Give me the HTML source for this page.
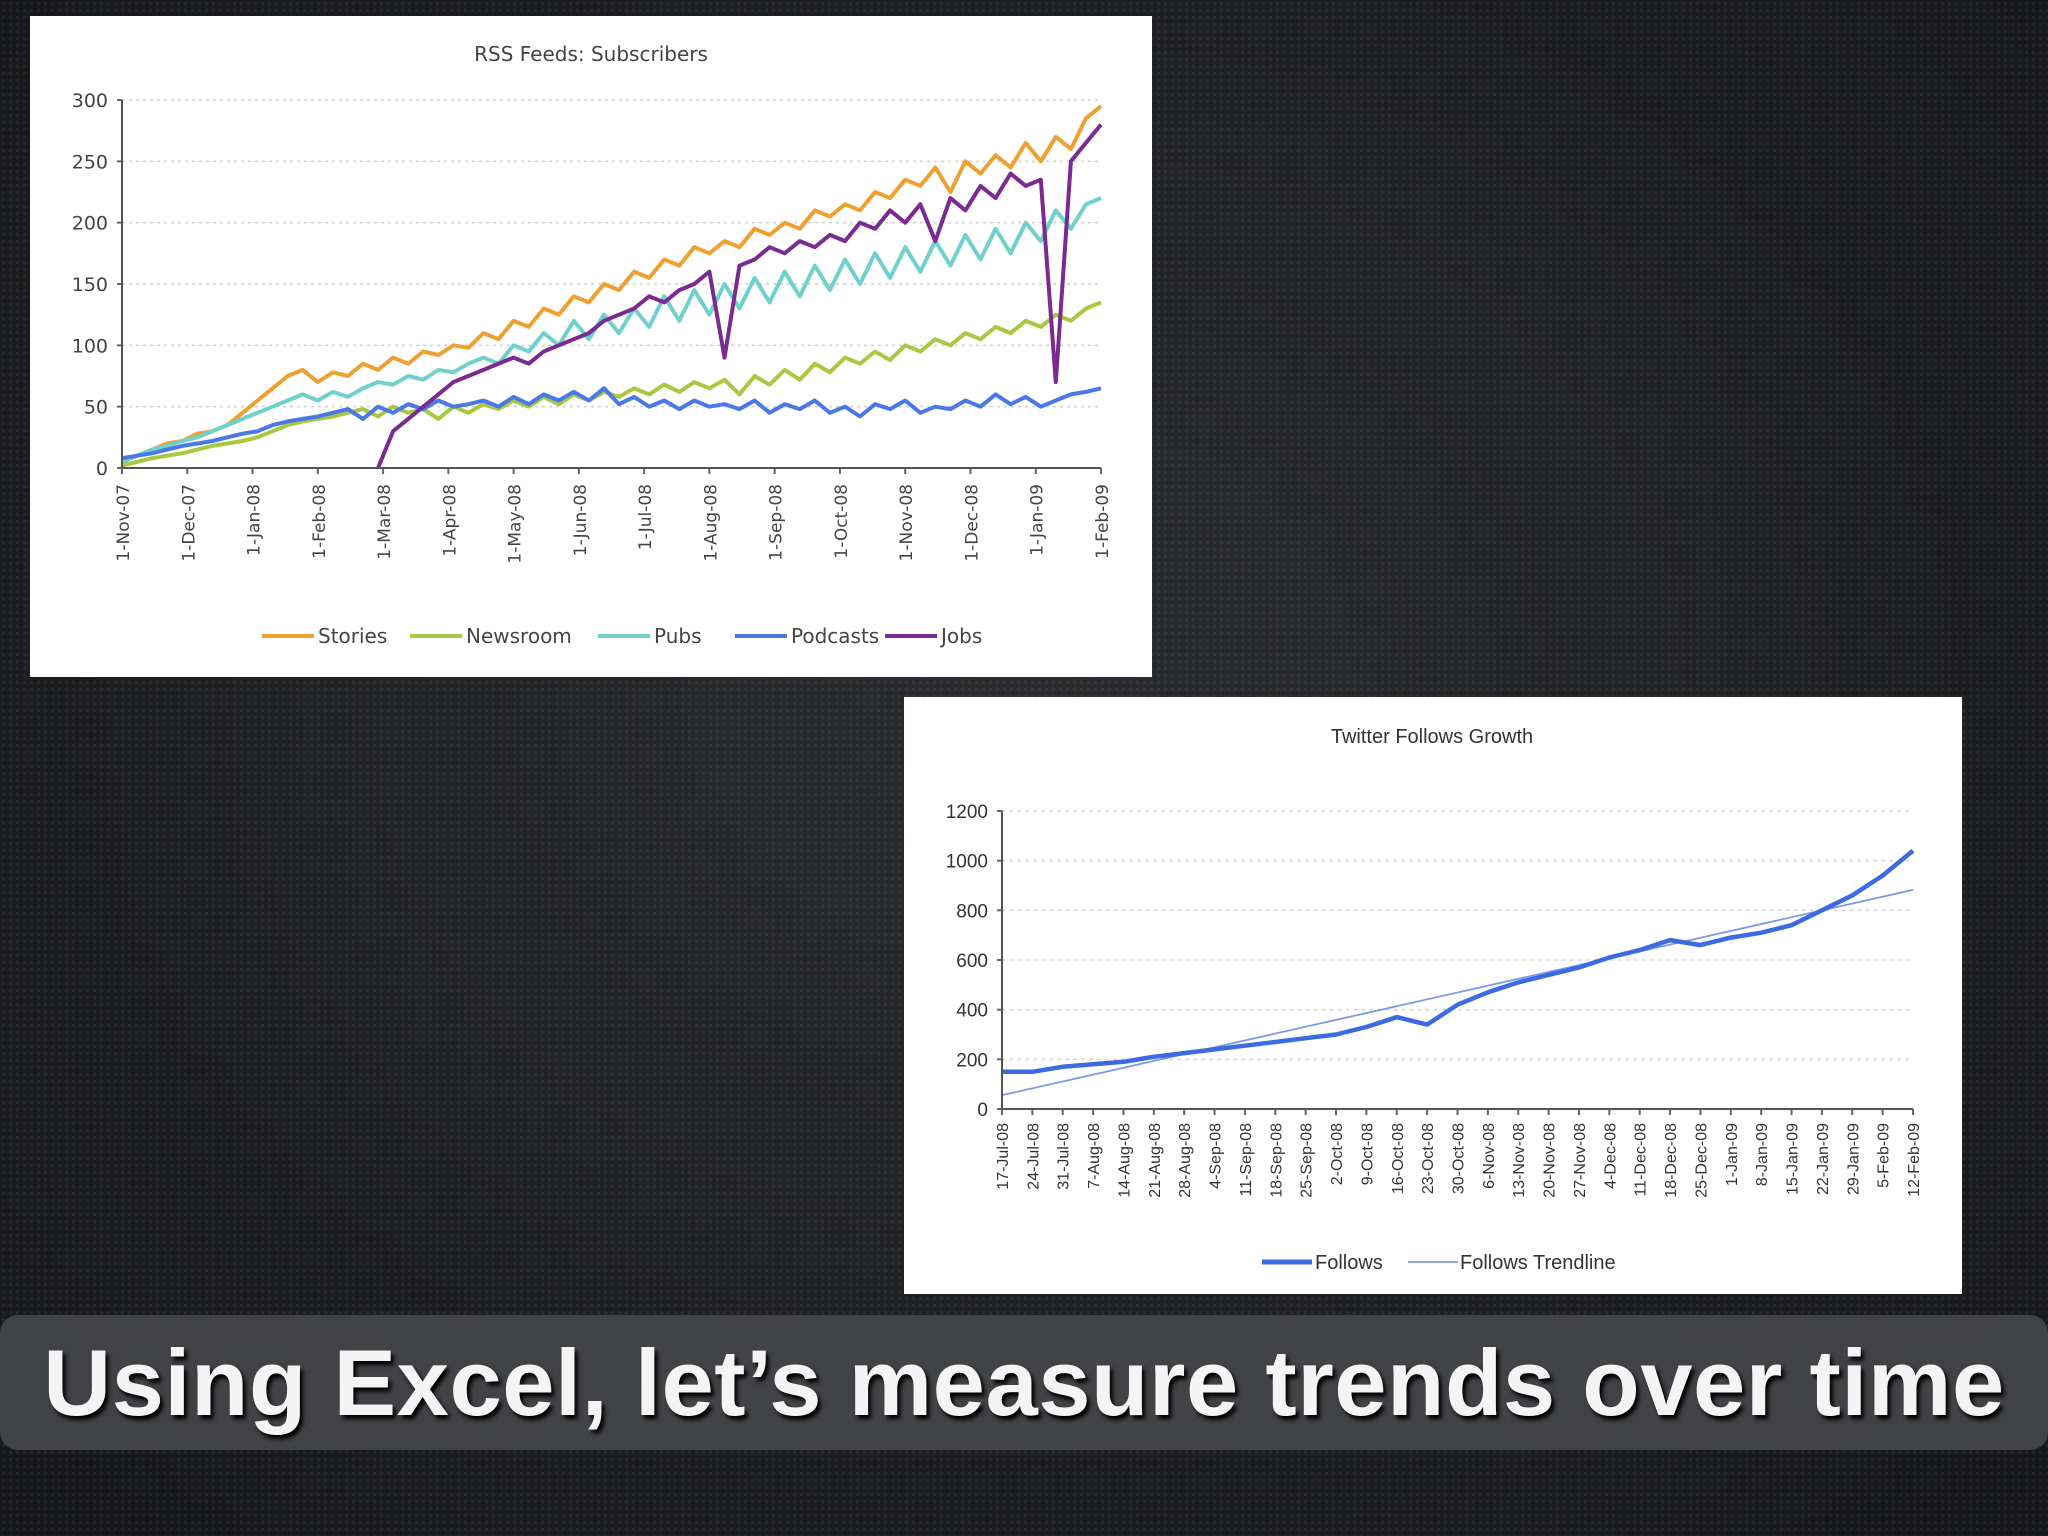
<!DOCTYPE html>
<html><head><meta charset="utf-8">
<style>
html,body{margin:0;padding:0;}
body{width:2048px;height:1536px;overflow:hidden;position:relative;
background-color:#222325;
background-image:radial-gradient(ellipse at 50% 45%, rgba(60,62,66,0.35) 0%, rgba(0,0,0,0.35) 100%),
radial-gradient(circle, #34363a 1.2px, transparent 2.2px);
background-size:100% 100%, 7px 7px;
font-family:"Liberation Sans",sans-serif;}
svg{position:absolute;left:0;top:0;}
#caption{position:absolute;left:0;top:1315px;width:2048px;height:135px;background:rgba(70,71,74,0.9);border-radius:18px;
color:#f4f4f4;font-weight:bold;font-size:94px;line-height:135px;text-align:center;text-shadow:3px 4px 4px #000;letter-spacing:0.5px;white-space:nowrap;}
</style></head><body>
<svg id="svg" width="2048" height="1536"></svg>
<div id="caption">Using Excel, let’s measure trends over time</div>
<script>
// ---- Chart 1 data (weekly, 1-Nov-07 .. 1-Feb-09) ----
const c1Months = ["1-Nov-07","1-Dec-07","1-Jan-08","1-Feb-08","1-Mar-08","1-Apr-08","1-May-08","1-Jun-08","1-Jul-08","1-Aug-08","1-Sep-08","1-Oct-08","1-Nov-08","1-Dec-08","1-Jan-09","1-Feb-09"];
const c1YTicks = [0,50,100,150,200,250,300];
const c1Names = ["Stories","Newsroom","Pubs","Podcasts","Jobs"];
const stories = [5,10,15,20,22,28,30,35,45,55,65,75,80,70,78,75,85,80,90,85,95,92,100,98,110,105,120,115,130,125,140,135,150,145,160,155,170,165,180,175,185,180,195,190,200,195,210,205,215,210,225,220,235,230,245,225,250,240,255,245,265,250,270,260,285,295];
const newsroom = [2,5,8,10,12,15,18,20,22,25,30,35,38,40,42,45,48,42,50,45,48,40,50,45,52,48,55,50,58,52,60,55,62,58,65,60,68,62,70,65,72,60,75,68,80,72,85,78,90,85,95,88,100,95,105,100,110,105,115,110,120,115,125,120,130,135];
const pubs = [5,10,15,18,22,25,30,35,40,45,50,55,60,55,62,58,65,70,68,75,72,80,78,85,90,85,100,95,110,100,120,105,125,110,130,115,140,120,145,125,150,130,155,135,160,140,165,145,170,150,175,155,180,160,185,165,190,170,195,175,200,185,210,195,215,220];
const podcasts = [8,10,12,15,18,20,22,25,28,30,35,38,40,42,45,48,40,50,45,52,48,55,50,52,55,50,58,52,60,55,62,55,65,52,58,50,55,48,55,50,52,48,55,45,52,48,55,45,50,42,52,48,55,45,50,48,55,50,60,52,58,50,55,60,62,65];
const jobs = [null,null,null,null,null,null,null,null,null,null,null,null,null,null,null,null,null,0,30,40,50,60,70,75,80,85,90,85,95,100,105,110,120,125,130,140,135,145,150,160,90,165,170,180,175,185,180,190,185,200,195,210,200,215,185,220,210,230,220,240,230,235,70,250,265,280];
const c1Colors = ["#f0a030","#a8c840","#70d0cc","#4a78e8","#7a2a90"];

// ---- Chart 2 data ----
const c2Labels = ["17-Jul-08","24-Jul-08","31-Jul-08","7-Aug-08","14-Aug-08","21-Aug-08","28-Aug-08","4-Sep-08","11-Sep-08","18-Sep-08","25-Sep-08","2-Oct-08","9-Oct-08","16-Oct-08","23-Oct-08","30-Oct-08","6-Nov-08","13-Nov-08","20-Nov-08","27-Nov-08","4-Dec-08","11-Dec-08","18-Dec-08","25-Dec-08","1-Jan-09","8-Jan-09","15-Jan-09","22-Jan-09","29-Jan-09","5-Feb-09","12-Feb-09"];
const follows = [150,150,170,180,190,210,225,240,255,270,285,300,330,370,340,420,470,510,540,570,610,640,680,660,690,710,740,800,860,940,1040];
const c2YTicks = [0,200,400,600,800,1000,1200];

const NS="http://www.w3.org/2000/svg";
const svg=document.getElementById('svg');
function el(tag,attrs,parent){const e=document.createElementNS(NS,tag);for(const k in attrs)e.setAttribute(k,attrs[k]);(parent||svg).appendChild(e);return e;}

// ===== Chart 1 =====
const g1=el('g',{});


const bg1=el('rect',{x:30,y:16,width:1122,height:661,fill:'#ffffff'},g1);


const X1L=122,X1R=1101,Y1B=468,Y1T=100;
const x1=i=>X1L+(X1R-X1L)*i/(stories.length-1);
const y1=v=>Y1B-(Y1B-Y1T)*v/300;
let t=el('text',{x:591,y:61,'text-anchor':'middle','font-size':20,fill:'#444','font-family':'DejaVu Sans, sans-serif'},g1);
t.textContent='RSS Feeds: Subscribers';


c1YTicks.forEach(v=>{
  if(v>0){const gl=el('line',{x1:X1L,x2:X1R,y1:y1(v),y2:y1(v),stroke:'#cfcfcf','stroke-width':1.5,'stroke-dasharray':'3,4'},g1);
  }
  el('line',{x1:X1L-5,x2:X1L,y1:y1(v),y2:y1(v),stroke:'#666','stroke-width':2},g1);
  const tx=el('text',{x:X1L-14,y:y1(v)+7,'text-anchor':'end','font-size':19,fill:'#444','font-family':'DejaVu Sans, sans-serif'},g1);
  tx.textContent=v;
  
  
});
c1Months.forEach((m,i)=>{
  const x=X1L+(X1R-X1L)*i/(c1Months.length-1);
  el('line',{x1:x,x2:x,y1:Y1B,y2:Y1B+6,stroke:'#666','stroke-width':2},g1);
  const tx=el('text',{x:x+7,y:Y1B+16,'text-anchor':'end','font-size':17,fill:'#444','font-family':'DejaVu Sans, sans-serif',transform:`rotate(-90 ${x+7} ${Y1B+16})`},g1);
  tx.textContent=m;
  
  
});
[stories,newsroom,pubs,podcasts,jobs].forEach((s,si)=>{
  let d='';let pen=false;
  s.forEach((v,i)=>{if(v===null){pen=false;return;}d+=(pen?'L':'M')+x1(i).toFixed(1)+','+y1(v).toFixed(1);pen=true;});
  const p=el('path',{d:d,fill:'none',stroke:c1Colors[si],'stroke-width':4,'stroke-linejoin':'round'},g1);
  
  
});
el('line',{x1:X1L,x2:X1L,y1:Y1T,y2:Y1B,stroke:'#555','stroke-width':2},g1);
el('line',{x1:X1L,x2:X1R,y1:Y1B,y2:Y1B,stroke:'#555','stroke-width':2},g1);
// legend
const legX=[262,410,598,735,885];
c1Names.forEach((n,i)=>{
  const lg=el('g',{},g1);
  
  
  el('line',{x1:legX[i],x2:legX[i]+52,y1:636,y2:636,stroke:c1Colors[i],'stroke-width':4},lg);
  const tx=el('text',{x:legX[i]+56,y:643,'font-size':20,fill:'#444','font-family':'DejaVu Sans, sans-serif'},lg);
  tx.textContent=n;
});

// ===== Chart 2 =====
const g2=el('g',{});


const bg2=el('rect',{x:904,y:697,width:1058,height:597,fill:'#ffffff'},g2);


const X2L=1002,X2R=1913,Y2B=1109,Y2T=811;
const x2=i=>X2L+(X2R-X2L)*i/(follows.length-1);
const y2=v=>Y2B-(Y2B-Y2T)*v/1200;
t=el('text',{x:1432,y:743,'text-anchor':'middle','font-size':20,fill:'#333'},g2);
t.textContent='Twitter Follows Growth';


c2YTicks.forEach(v=>{
  if(v>0){const gl=el('line',{x1:X2L,x2:X2R,y1:y2(v),y2:y2(v),stroke:'#cfcfcf','stroke-width':1.5,'stroke-dasharray':'3,5'},g2);
  }
  el('line',{x1:X2L-5,x2:X2L,y1:y2(v),y2:y2(v),stroke:'#666','stroke-width':2},g2);
  const tx=el('text',{x:X2L-14,y:y2(v)+7,'text-anchor':'end','font-size':19,fill:'#333'},g2);
  tx.textContent=v;
  
  
});
c2Labels.forEach((m,i)=>{
  const x=x2(i);
  el('line',{x1:x,x2:x,y1:Y2B,y2:Y2B+6,stroke:'#666','stroke-width':2},g2);
  const tx=el('text',{x:x+6,y:Y2B+14,'text-anchor':'end','font-size':16,fill:'#333',transform:`rotate(-90 ${x+6} ${Y2B+14})`},g2);
  tx.textContent=m;
  
  
});
// trendline (least squares from follows)
const n=follows.length;let sx=0,sy=0,sxy=0,sxx=0;
follows.forEach((v,i)=>{sx+=i;sy+=v;sxy+=i*v;sxx+=i*i;});
const slope=(n*sxy-sx*sy)/(n*sxx-sx*sx),icpt=(sy-slope*sx)/n;
const tl=el('line',{x1:x2(0),y1:y2(icpt),x2:x2(n-1),y2:y2(icpt+slope*(n-1)),stroke:'#7a9ae8','stroke-width':1.8},g2);


let d2='';follows.forEach((v,i)=>{d2+=(i?'L':'M')+x2(i).toFixed(1)+','+y2(v).toFixed(1);});
const fp=el('path',{d:d2,fill:'none',stroke:'#3c6ae0','stroke-width':4.5,'stroke-linejoin':'round'},g2);


el('line',{x1:X2L,x2:X2L,y1:Y2T,y2:Y2B,stroke:'#555','stroke-width':2},g2);
el('line',{x1:X2L,x2:X2R,y1:Y2B,y2:Y2B,stroke:'#555','stroke-width':2},g2);
const l1=el('g',{},g2);


el('line',{x1:1262,x2:1312,y1:1262,y2:1262,stroke:'#3c6ae0','stroke-width':5},l1);
t=el('text',{x:1315,y:1269,'font-size':20,fill:'#333'},l1);t.textContent='Follows';
const l2=el('g',{},g2);


el('line',{x1:1408,x2:1458,y1:1262,y2:1262,stroke:'#8aa6ea','stroke-width':2},l2);
t=el('text',{x:1460,y:1269,'font-size':20,fill:'#333'},l2);t.textContent='Follows Trendline';
</script>
</body></html>
